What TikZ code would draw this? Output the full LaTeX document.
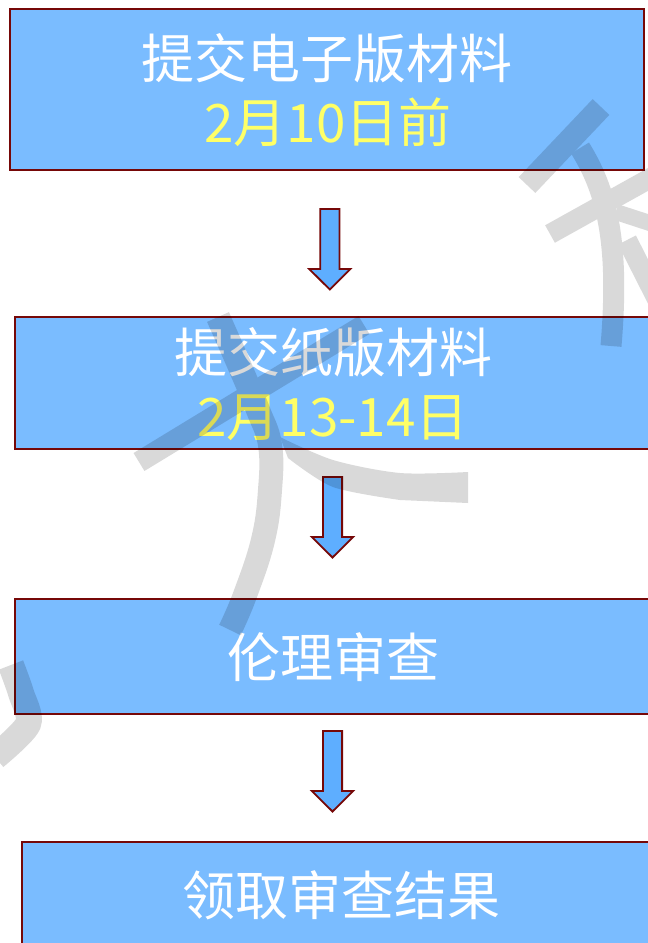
\documentclass[tikz,border=0pt]{standalone}
\usepackage{fontspec}
\newfontfamily\cjk{Noto Sans CJK SC}
\usetikzlibrary{calc}
\definecolor{boxfill}{HTML}{7ABCFF}
\definecolor{boxline}{HTML}{760808}
\definecolor{arrfill}{HTML}{5EAEFF}
\definecolor{ytext}{HTML}{FFFF66}
\tikzset{
  box/.style={draw=boxline, line width=2.2pt, fill=boxfill, inner sep=0pt},
  wtxt/.style={text=white, font=\cjk\fontsize{53}{64}\selectfont, anchor=base, inner sep=0pt},
  ytxt/.style={wtxt, text=ytext},
  arr/.style={draw=boxline, line width=1.8pt, fill=arrfill, line join=miter},
  downarr/.pic={\draw[arr] (-9.6,0) -- (9.6,0) -- (9.6,60) -- (20.6,60) -- (0,80.5) -- (-20.6,60) -- (-9.6,60) -- cycle;}
}
\begin{document}
\begin{tikzpicture}[x=1pt,y=-1pt]
\useasboundingbox (0,0) rectangle (648,943);
\clip (0,0) rectangle (648,943);
\fill[white] (0,0) rectangle (648,943);
% boxes
\node[box, minimum width=633.8pt, minimum height=160.8pt] (b1) at (327,89.5) {};
\node[box, minimum width=635.8pt, minimum height=131.8pt] (b2) at (333,383) {};
\node[box, minimum width=635.8pt, minimum height=114.8pt] (b3) at (333,656.5) {};
\node[box, minimum width=637.8pt, minimum height=106.8pt] (b4) at (341,895.5) {};
% texts
\node[wtxt] (t1a) at (327,78) {提交电子版材料};
\node[ytxt] (t1b) at (328,142) {2月10日前};
\node[wtxt] (t2a) at (333,372) {提交纸版材料};
\node[ytxt] (t2b) at (333,436) {2月13-14日};
\node[wtxt] (t3) at (333,677) {伦理审查};
\node[wtxt] (t4) at (341,915) {领取审查结果};
% arrows
\coordinate (a1) at (329.8,209);
\coordinate (a2) at (332.5,477);
\coordinate (a3) at (332.5,731);
\pic at (a1) {downarr};
\pic at (a2) {downarr};
\pic at (a3) {downarr};
% watermark
\begin{scope}[transparency group, opacity=0.15]
\draw[black, line width=23pt] (601,107) -- (527,185);
\draw[black, line width=21pt] (580,148) .. controls (606,190) and (620,240) .. (611,346);
\draw[black, line width=20pt] (550,234) -- (665,170);
\draw[black, line width=16pt] (616,212) -- (665,228);
\draw[black, line width=20pt] (627,240) -- (665,315);
\draw[black, line width=21pt] (139,462) -- (364,325);
\draw[black, line width=24pt] plot[smooth, tension=0.7] coordinates {(218,317) (240,367) (258,410) (270,445) (270,490) (263,540) (245,595) (230,630)};
\fill[black] plot[smooth] coordinates {(280,437) (333,460) (400,473) (468,472)} -- (468,503) -- plot[smooth] coordinates {(400,500) (333,487) (288,458)} -- cycle;
\draw[black, line width=26pt] plot[smooth] coordinates {(11,665) (21,693) (28,724) (-5,757)};
\end{scope}
\end{tikzpicture}
\end{document}
